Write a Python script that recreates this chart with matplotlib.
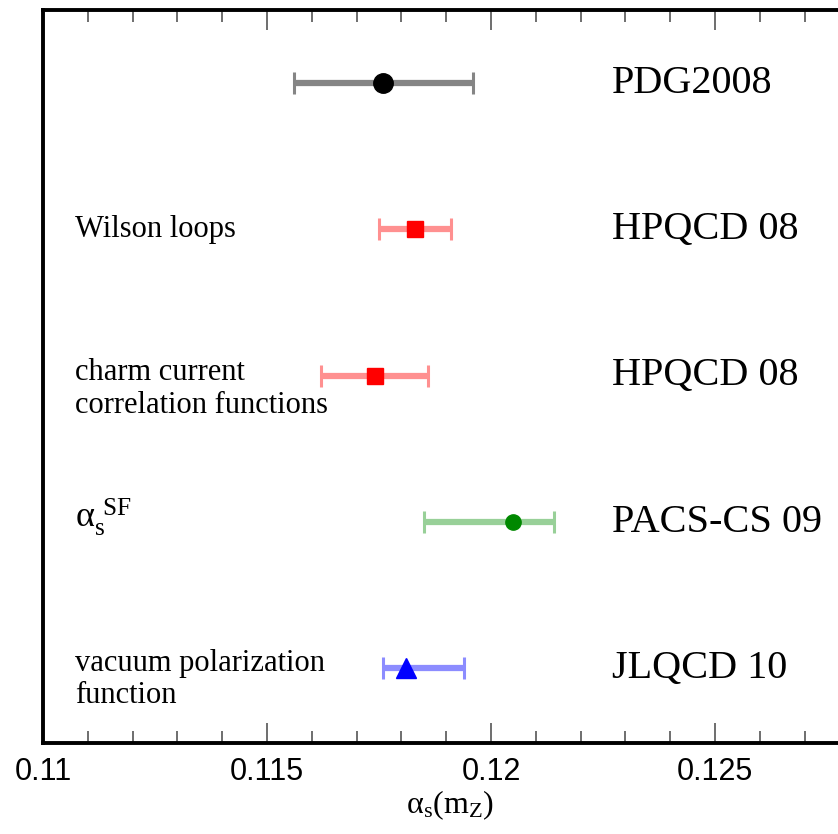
import matplotlib.pyplot as plt

# data
names = ['PDG2008', 'HPQCD 08', 'HPQCD 08', 'PACS-CS 09', 'JLQCD 10']
methods = ['', 'Wilson loops', 'charm current\ncorrelation functions',
           r'$\mathrm{\alpha_{s}^{\;\,SF}}$', 'vacuum polarization\nfunction']
alpha_s = [0.1176, 0.1183, 0.1174, 0.1205, 0.1181]
err_lo = [0.0020, 0.0008, 0.0012, 0.0020, 0.0005]
err_hi = [0.0020, 0.0008, 0.0012, 0.0009, 0.0013]
ypos = [5, 4, 3, 2, 1]
method_dy = [0, 0, -0.09, 0.03, -0.075]
method_fs = [22, 22, 22, 26, 22]

xticks = [0.11, 0.115, 0.12, 0.125]
xticklabels = ['0.11', '0.115', '0.12', '0.125']

markers = ['o', 's', 's', 'o', '^']
msizes = [14, 12, 12, 11, 14]
mcolors = ['black', '#ff0000', '#ff0000', '#008800', '#0000ff']
bcolors = ['#858585', '#ff9090', '#ff9090', '#98d098', '#8c8cff']
ccolors = ['#555555', '#ff4545', '#ff4545', '#30a030', '#6565ff']

serif = ['Liberation Serif', 'DejaVu Serif']
plt.rcParams['mathtext.fontset'] = 'custom'
plt.rcParams['mathtext.rm'] = 'Liberation Serif'
plt.rcParams['mathtext.it'] = 'Liberation Serif:italic'

fig = plt.figure(figsize=(8.38, 8.34), dpi=100)
# axes runs past the right edge of the figure (picture is cropped there)
ax = fig.add_axes([43 / 838, 1 - 743 / 834, 896 / 838, 733 / 834])

for i in range(len(names)):
    eb = ax.errorbar(alpha_s[i], ypos[i], xerr=[[err_lo[i]], [err_hi[i]]],
                     fmt=markers[i], ms=msizes[i], color=mcolors[i],
                     ecolor=bcolors[i], elinewidth=4.5, capsize=8,
                     capthick=2.2, zorder=3)
    for c in eb[1]:
        c.set_color(ccolors[i])
    ax.text(0.1227, ypos[i], names[i], fontsize=29, family=serif,
            va='center', ha='left')
    if methods[i]:
        ax.text(0.11071, ypos[i] + method_dy[i], methods[i],
                fontsize=method_fs[i], family=serif, va='center', ha='left',
                linespacing=1.15)

ax.set_xlim(0.11, 0.13)
ax.set_ylim(0.49, 5.5)
ax.set_yticks([])
ax.set_xticks(xticks)
ax.set_xticklabels(xticklabels, family=['Liberation Sans', 'DejaVu Sans'],
                   fontsize=22)
ax.set_xticks([0.111 + 0.001 * k for k in range(20) if (k + 1) % 5 != 0],
              minor=True)
ax.tick_params(axis='x', which='both', direction='in', top=True,
               color='#555555', width=1.2, pad=10)
ax.tick_params(axis='x', which='major', length=14.5)
ax.tick_params(axis='x', which='minor', length=8.5)
for s in ax.spines.values():
    s.set_linewidth(2.8)

ax.set_xlabel(r'$\mathrm{\alpha_s(m_Z)}$', fontsize=23)
ax.xaxis.set_label_coords(0.454, -0.062)

fig.savefig('out.png', dpi=100)
